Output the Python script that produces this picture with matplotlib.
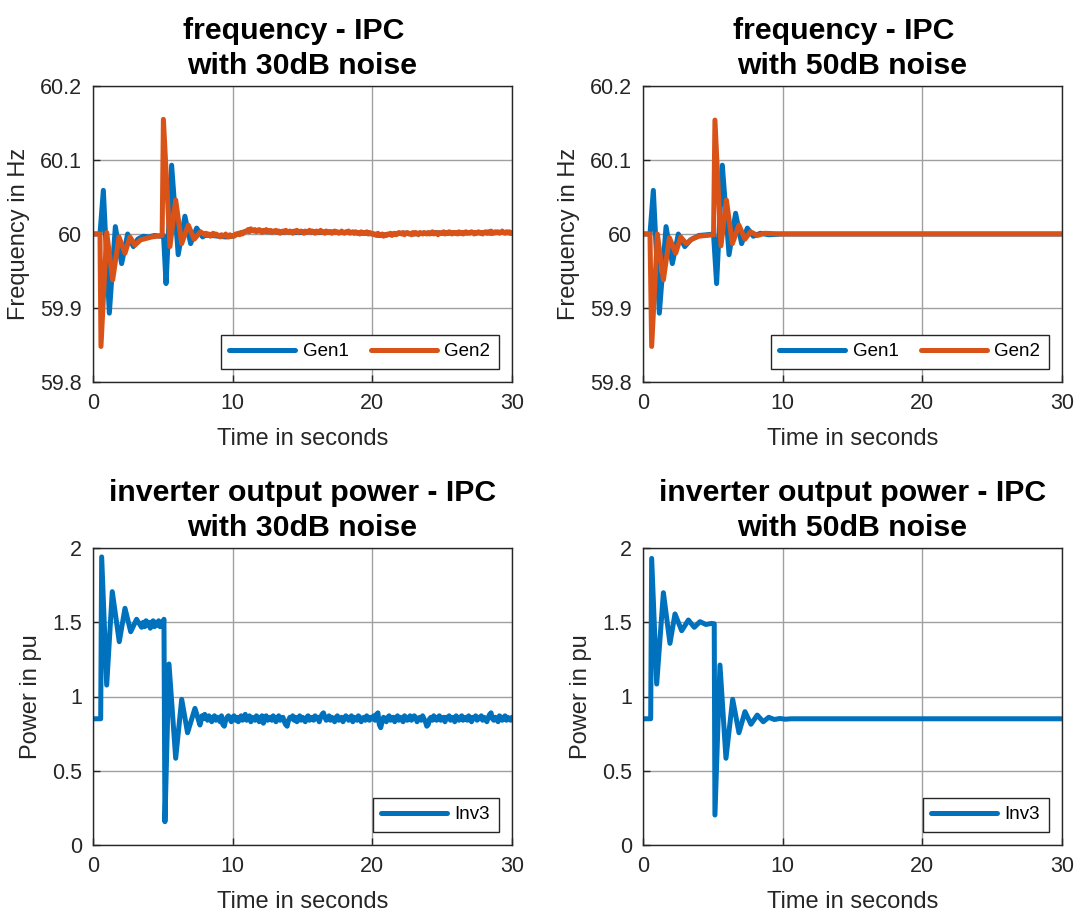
import numpy as np
import matplotlib
matplotlib.use("Agg")
from matplotlib import pyplot as plt

plt.rcParams['font.family'] = ['Liberation Sans', 'DejaVu Sans']

BLUE = '#0072BD'
ORANGE = '#D95319'

# ---- frequency, 30 dB noise ----
# transient (peaks / troughs of the swings)
f30_gen1_t = [0, 0.5, 0.74, 1.17, 1.6, 2.05, 2.48, 2.89, 3.2, 3.6, 4.0, 4.4, 4.8, 5.05,
              5.23, 5.63, 6.1, 6.58, 6.99, 7.42, 7.85]
f30_gen1_f = [60.0, 60.0, 60.059, 59.893, 60.010, 59.960, 60.000, 59.983, 59.993, 59.997,
              59.996, 59.998, 59.997, 59.998, 59.933, 60.093, 59.972, 60.024, 59.987,
              60.008, 59.996]
f30_gen2_t = [0, 0.5, 0.57, 0.98, 1.41, 1.86, 2.29, 2.65, 3.0, 3.4, 3.8, 4.2, 4.6, 4.95,
              5.04, 5.51, 5.92, 6.35, 6.82, 7.25, 7.7]
f30_gen2_f = [60.0, 60.0, 59.848, 60.002, 59.938, 59.996, 59.974, 59.996, 59.985, 59.992,
              59.994, 59.996, 59.997, 59.998, 60.155, 59.983, 60.046, 59.987, 60.012,
              59.993, 60.003]
# noisy tails in mHz around 60 Hz: Gen1 every 0.5 s, Gen2 every 0.1 s, from 8 s
f30_gen1_tail_mhz = [-2, -2, -3, -4, -3, 1, 4, 5, 4, 3, 3, 2, 3, 2, 2, 3, 2, 2, 3, 2,
                     2, 2, 1, 1, 0, -2, -1, 0, 1, 1, 0, 1, 1, 2, 1, 1, 2, 1, 2, 2,
                     2, 1, 2, 2, 1]
f30_gen2_tail_mhz = [-1, 1, -2, 0, -3, -1, 1, -2, 0, -1,
                     -2, -4, -1, -3, -2, 0, -3, -4, -1, -3,
                     -2, -3, 0, -1, 1, -1, 2, 0, 2, 3,
                     4, 6, 3, 7, 5, 4, 6, 3, 5, 6,
                     4, 2, 5, 3, 6, 4, 3, 5, 2, 4,
                     3, 5, 2, 4, 1, 3, 4, 2, 5, 3,
                     2, 4, 3, 1, 4, 3, 5, 2, 3, 4,
                     3, 1, 4, 2, 3, 5, 2, 4, 3, 1,
                     4, 2, 3, 5, 2, 3, 1, 4, 3, 2,
                     3, 1, 2, 4, 2, 3, 1, 2, 4, 2,
                     1, 3, 2, 4, 1, 2, 3, 1, 3, 2,
                     2, 0, 3, 1, 2, 1, 3, 0, 2, 1,
                     1, -1, 0, -2, 1, -1, -2, 0, -3, -1,
                     -2, 0, -1, 1, -2, 0, 1, -1, 0, 2,
                     1, 0, 2, -1, 1, 2, 0, 1, -1, 2,
                     0, 2, 1, -1, 2, 1, 0, 2, 1, 0,
                     2, 0, 1, 3, 0, 2, 1, -1, 2, 1,
                     1, 3, 0, 2, 1, 3, 2, 0, 2, 1,
                     2, 0, 3, 1, 2, 0, 2, 3, 1, 2,
                     1, 3, 2, 0, 2, 1, 3, 1, 2, 0,
                     2, 3, 1, 3, 2, 4, 1, 2, 3, 2,
                     3, 1, 2, 4, 2, 1, 3, 2, 3, 1,
                     2]

# ---- frequency, 50 dB noise ----
f50_gen1_t = [0, 0.5, 0.74, 1.17, 1.65, 2.1, 2.53, 2.99, 3.4, 4.0, 4.6, 5.05, 5.27, 5.68,
              6.16, 6.63, 7.06, 7.47, 7.9, 8.4, 9.0, 10.0, 30.0]
f50_gen1_f = [60.0, 60.0, 60.059, 59.893, 60.010, 59.960, 60.000, 59.983, 59.992, 59.998,
              59.999, 60.0, 59.933, 60.093, 59.972, 60.028, 59.987, 60.008, 59.997,
              60.001, 59.999, 60.0, 60.0]
f50_gen2_t = [0, 0.5, 0.62, 1.03, 1.46, 1.89, 2.34, 2.7, 3.1, 3.5, 4.0, 4.5, 5.05, 5.15,
              5.58, 5.97, 6.4, 6.87, 7.3, 7.7, 8.2, 8.7, 10.0, 30.0]
f50_gen2_f = [60.0, 60.0, 59.848, 60.000, 59.938, 59.995, 59.974, 59.996, 59.987, 59.993,
              59.997, 59.998, 59.999, 60.154, 59.984, 60.046, 59.987, 60.012, 59.993,
              60.003, 59.998, 60.001, 60.0, 60.0]

# ---- inverter power, 30 dB noise ----
p30_t = [0, 0.55, 0.62, 0.98, 1.38, 1.88, 2.29, 2.7, 3.12, 3.48,
         3.6, 3.7, 3.8, 3.9, 4.0, 4.1, 4.2, 4.3, 4.4, 4.5, 4.6, 4.7, 4.8, 4.9, 5.0,
         5.08, 5.15, 5.44, 5.92, 6.35, 6.77, 7.3, 7.66]
p30_p = [0.85, 0.85, 1.94, 1.077, 1.706, 1.369, 1.594, 1.436, 1.52, 1.466,
         1.50, 1.47, 1.51, 1.48, 1.50, 1.46, 1.49, 1.51, 1.47, 1.50, 1.48, 1.51, 1.47,
         1.50, 1.49,
         1.52, 0.157, 1.219, 0.584, 0.981, 0.756, 0.92, 0.808]
# noisy tail, hundredths of pu around 0.85, every 0.1 s from 7.8 s
p30_tail_cpu = [2, 0, 3, 1, -1, 2, 0, -2, 1, 2,
                -1, 1, 0, -2, 2, -4, -5, -1, 1, 2,
                0, -2, 1, 2, -1, 1, -2, 0, 2, -1,
                1, 3, -1, 0, 2, -2, 1, 0, -1, 2,
                1, -2, 0, 2, -3, 1, 2, -1, 0, 1,
                -1, 2, 0, -2, 1, 2, -1, 0, 1, -2,
                -4, -5, -1, 1, 0, 2, -1, 1, -2, 0,
                2, -1, 1, 0, -2, 1, 2, -1, 0, 1,
                -1, 2, 0, 1, -2, 1, 3, 4, 1, -1,
                0, 2, -1, 1, 0, -2, 1, 2, -1, 0,
                1, -2, 0, 2, 1, -1, 0, 2, -2, 1,
                0, -1, 2, 1, -2, 0, 1, -1, 2, 0,
                -1, 1, 0, 2, -1, 3, 4, -4, -6, -2,
                1, 0, -2, 1, 2, -1, 0, 1, -2, 0,
                2, -1, 1, 0, -2, 2, 1, -1, 0, 2,
                -1, 0, 2, 1, -2, 0, 1, -1, 2, 0,
                -2, -5, -4, 0, 1, -1, 2, 0, -1, 1,
                2, -1, 0, 1, -2, 1, 0, 2, -1, 0,
                1, -2, 2, 0, -1, 1, 2, -1, 0, 1,
                -1, 2, 0, -2, 1, 0, 2, -1, 1, 0,
                2, -1, 1, 0, -2, 1, 3, 4, 0, -1,
                1, 0, -2, 2, 1, -1, 0, 2, -1, 1,
                0, -1, 1]

# ---- inverter power, 50 dB noise ----
p50_t = [0, 0.55, 0.62, 0.98, 1.46, 1.93, 2.29, 2.77, 3.25, 3.67, 4.08, 4.5, 4.9, 5.1,
         5.15, 5.51, 5.94, 6.42, 6.87, 7.3, 7.73, 8.18, 8.61, 9.0, 9.4, 9.8, 10.2, 10.6,
         30.0]
p50_p = [0.85, 0.85, 1.93, 1.084, 1.699, 1.358, 1.556, 1.443, 1.515, 1.466, 1.504, 1.485,
         1.492, 1.49, 0.202, 1.212, 0.584, 0.981, 0.756, 0.898, 0.813, 0.875, 0.83, 0.86,
         0.845, 0.852, 0.847, 0.85, 0.85]

# join transients with the noisy tails
t1 = np.linspace(8, 30, len(f30_gen1_tail_mhz))
t2 = np.linspace(8, 30, len(f30_gen2_tail_mhz))
f30_g1_t = np.concatenate([f30_gen1_t, t1])
f30_g1_f = np.concatenate([f30_gen1_f, 60 + np.array(f30_gen1_tail_mhz) / 1000])
f30_g2_t = np.concatenate([f30_gen2_t, t2])
f30_g2_f = np.concatenate([f30_gen2_f, 60 + np.array(f30_gen2_tail_mhz) / 1000])

tp = np.linspace(7.8, 30, len(p30_tail_cpu))
p30_all_t = np.concatenate([p30_t, tp])
p30_all_p = np.concatenate([p30_p, 0.85 + np.array(p30_tail_cpu) / 100])

W, H = 1077, 914
fig = plt.figure(figsize=(W / 100, H / 100), dpi=100)


def make_axes(x0, y0, x1, y1):
    return fig.add_axes([x0 / W, 1 - y1 / H, (x1 - x0) / W, (y1 - y0) / H])


def style(ax, title, ylabel):
    ax.set_xlim(0, 30)
    ax.set_xticks([0, 10, 20, 30])
    ax.grid(True, color='#a0a0a0', linewidth=1.0)
    ax.set_axisbelow(True)
    for s in ax.spines.values():
        s.set_color('#262626')
        s.set_linewidth(1.0)
    ax.tick_params(direction='in', length=5, width=1.0, colors='#262626',
                   labelsize=15.5, pad=8)
    ax.set_title(title, fontsize=21.8, fontweight='bold', pad=9, linespacing=1.3)
    ax.set_xlabel('Time in seconds', fontsize=17, color='#262626', labelpad=10)
    ax.set_ylabel(ylabel, fontsize=17, color='#262626', labelpad=7)


def legend(ax, ncol):
    lg = ax.legend(loc='lower right', ncol=ncol, fontsize=13.5, fancybox=False,
                   framealpha=1, edgecolor='#262626', handlelength=3.5,
                   handletextpad=0.4, columnspacing=1.2, borderpad=0.45,
                   borderaxespad=0.72)
    lg.get_frame().set_linewidth(1.0)


LW = 3.6
kw = dict(lw=LW, solid_joinstyle='round', solid_capstyle='round')

ax1 = make_axes(93, 86, 512, 382)
ax1.plot(f30_g1_t, f30_g1_f, color=BLUE, label='Gen1', **kw)
ax1.plot(f30_g2_t, f30_g2_f, color=ORANGE, label='Gen2', **kw)
ax1.set_ylim(59.8, 60.2)
ax1.set_yticks([59.8, 59.9, 60.0, 60.1, 60.2])
ax1.set_yticklabels(['59.8', '59.9', '60', '60.1', '60.2'])
style(ax1, 'frequency - IPC  \nwith 30dB noise', 'Frequency in Hz')
legend(ax1, 2)

ax2 = make_axes(643, 86, 1062, 382)
ax2.plot(f50_gen1_t, f50_gen1_f, color=BLUE, label='Gen1', **kw)
ax2.plot(f50_gen2_t, f50_gen2_f, color=ORANGE, label='Gen2', **kw)
ax2.set_ylim(59.8, 60.2)
ax2.set_yticks([59.8, 59.9, 60.0, 60.1, 60.2])
ax2.set_yticklabels(['59.8', '59.9', '60', '60.1', '60.2'])
style(ax2, 'frequency - IPC  \nwith 50dB noise', 'Frequency in Hz')
legend(ax2, 2)

ax3 = make_axes(93, 548, 512, 845)
ax3.plot(p30_all_t, p30_all_p, color=BLUE, label='Inv3', **kw)
ax3.set_ylim(0, 2)
ax3.set_yticks([0, 0.5, 1, 1.5, 2])
ax3.set_yticklabels(['0', '0.5', '1', '1.5', '2'])
style(ax3, 'inverter output power - IPC\nwith 30dB noise', 'Power in pu')
legend(ax3, 1)

ax4 = make_axes(643, 548, 1062, 845)
ax4.plot(p50_t, p50_p, color=BLUE, label='Inv3', **kw)
ax4.set_ylim(0, 2)
ax4.set_yticks([0, 0.5, 1, 1.5, 2])
ax4.set_yticklabels(['0', '0.5', '1', '1.5', '2'])
style(ax4, 'inverter output power - IPC\nwith 50dB noise', 'Power in pu')
legend(ax4, 1)

fig.savefig('out.png', dpi=100, facecolor='white')
